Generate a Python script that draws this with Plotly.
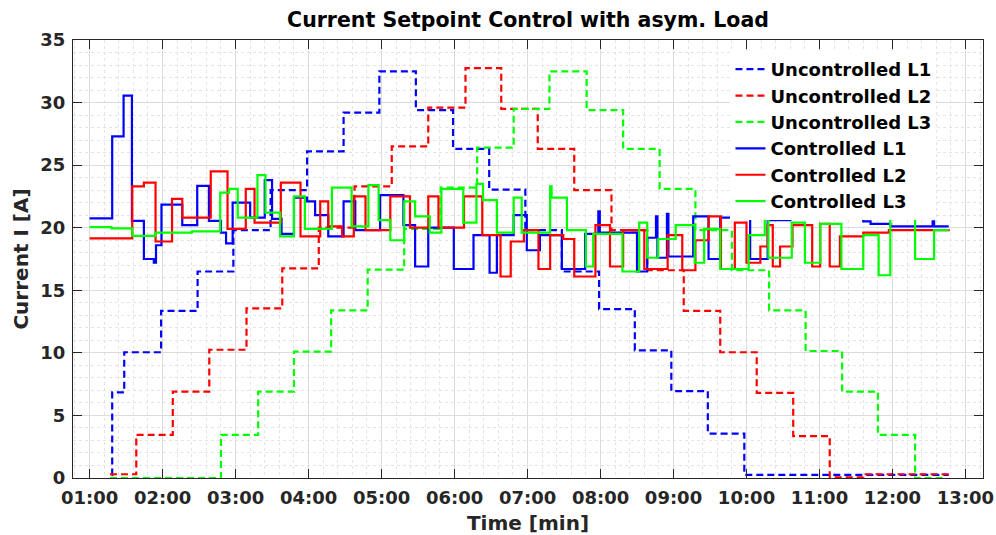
import plotly.graph_objects as go

# Time axis in minutes, currents in ampere (step profiles)
unc_l1_t = [1.30, 1.31, 1.475, 1.98, 2.48, 2.97, 3.48, 3.98, 4.48, 4.97, 5.47, 5.98,
            6.475, 6.97, 7.47, 7.98, 8.47, 8.97, 9.47, 9.97, 12.77]
unc_l1_i = [0.25, 6.85, 10.05, 13.35, 16.5, 19.8, 23.0, 26.1, 29.2, 32.5, 29.4, 26.3,
            23.05, 19.8, 16.5, 13.5, 10.2, 6.95, 3.55, 0.25, 0.25]

unc_l2_t = [1.28, 1.64, 2.14, 2.64, 3.15, 3.64, 4.14, 4.63, 5.14, 5.64, 6.15, 6.64,
            7.14, 7.64, 8.15, 8.64, 9.14, 9.64, 10.14, 10.64, 11.14, 11.6, 12.77]
unc_l2_i = [0.3, 3.45, 6.9, 10.25, 13.55, 16.75, 20.0, 23.3, 26.5, 29.6, 32.75, 29.5,
            26.3, 23.0, 19.8, 16.6, 13.35, 10.05, 6.8, 3.35, 0.05, 0.3, 0.3]

unc_l3_t = [1.28, 2.80, 3.31, 3.80, 4.31, 4.81, 5.31, 5.81, 6.31, 6.81, 7.30, 7.81,
            8.31, 8.81, 9.30, 9.80, 10.31, 10.81, 11.31, 11.80, 12.31, 12.69]
unc_l3_i = [0.0, 3.45, 6.9, 10.1, 13.4, 16.65, 19.9, 23.2, 26.4, 29.5, 32.5, 29.4,
            26.3, 23.1, 19.8, 16.6, 13.4, 10.15, 6.9, 3.45, 0.0, 0.0]

ctl_l1_t = [1.00, 1.31, 1.466, 1.58, 1.744, 1.88, 1.91, 1.985, 2.27, 2.475, 2.635, 2.80,
            2.87, 2.96, 3.20, 3.40, 3.50, 3.63, 3.80, 3.98, 4.09, 4.27, 4.48, 4.64,
            4.98, 5.30, 5.46, 5.64, 5.99, 6.26, 6.48, 6.58, 6.81, 6.99, 7.17, 7.47,
            7.79, 7.97, 7.99, 8.50, 8.64, 8.76, 8.78, 8.91, 8.93, 9.27, 9.48, 9.64,
            10.05, 10.29, 10.6, 11.6, 11.7, 11.97, 12.55, 12.57, 12.77]
ctl_l1_i = [20.75, 27.3, 30.55, 20.55, 17.5, 17.2, 18.6, 21.85, 20.2, 23.35, 20.55, 19.6,
            18.75, 22.0, 20.8, 23.8, 20.7, 19.5, 22.4, 22.1, 21.0, 19.3, 22.1, 19.8,
            22.6, 20.2, 16.9, 20.0, 16.7, 19.4, 16.4, 19.4, 21.0, 18.2, 19.4, 16.7,
            19.5, 21.3, 19.6, 16.5, 19.2, 20.9, 17.6, 21.1, 17.7, 20.9, 17.5, 20.8,
            17.5, 20.6, 20.7, 20.5, 20.3, 20.1, 20.5, 20.1, 20.1]

ctl_l2_t = [1.00, 1.585, 1.744, 1.904, 2.13, 2.27, 2.66, 2.89, 3.14, 3.26, 3.62, 3.89,
            4.16, 4.27, 4.46, 4.62, 4.78, 5.12, 5.39, 5.64, 5.78, 6.13, 6.38, 6.63,
            6.77, 6.95, 7.15, 7.31, 7.49, 7.64, 7.93, 8.13, 8.31, 8.60, 8.92, 9.12,
            9.30, 9.48, 9.65, 9.84, 10.0, 10.19, 10.29, 10.36, 10.46, 10.63, 10.90, 11.01,
            11.14, 11.28, 11.6, 11.95, 12.77]
ctl_l2_i = [19.15, 23.3, 23.6, 18.9, 22.3, 20.8, 24.5, 19.9, 23.1, 20.4, 23.6, 19.3,
            22.1, 20.1, 19.3, 22.5, 19.8, 22.5, 20.0, 22.5, 20.0, 22.5, 19.4, 16.1,
            18.9, 19.8, 16.7, 19.4, 19.1, 16.1, 20.2, 16.9, 19.8, 16.7, 19.4, 16.6,
            19.0, 20.9, 16.7, 20.4, 17.2, 18.5, 20.2, 16.9, 18.5, 20.2, 16.9, 20.3,
            16.9, 19.3, 19.6, 19.8, 19.9]

ctl_l3_t = [1.00, 1.30, 1.585, 1.90, 2.40, 2.79, 2.91, 3.03, 3.30, 3.41, 3.61, 3.80,
            3.95, 4.32, 4.59, 4.82, 4.96, 5.12, 5.31, 5.46, 5.66, 5.82, 6.12, 6.30,
            6.39, 6.58, 6.81, 6.92, 7.31, 7.33, 7.54, 7.80, 7.90, 8.30, 8.53, 8.64,
            8.79, 9.03, 9.29, 9.42, 9.64, 10.03, 10.25, 10.30, 10.62, 10.80, 11.01, 11.30,
            11.60, 11.81, 11.97, 12.31, 12.57, 12.77]
ctl_l3_i = [20.05, 19.95, 19.35, 19.6, 19.7, 22.8, 23.1, 20.8, 24.2, 21.2, 19.3, 22.5,
            19.9, 23.2, 20.1, 23.4, 20.6, 19.0, 22.1, 20.9, 19.6, 23.1, 20.4, 23.5,
            22.2, 19.6, 22.4, 19.6, 23.3, 22.4, 19.8, 16.9, 19.5, 16.5, 20.4, 17.6,
            19.1, 20.2, 17.2, 19.9, 16.7, 19.4, 21.1, 17.6, 20.4, 17.2, 20.3, 16.7,
            19.4, 16.2, 20.8, 17.5, 19.8, 19.8]

tick_minutes = list(range(1, 14))
tick_labels = [f"{m:02d}:00" for m in tick_minutes]

BLUE, RED, GREEN = "#0000ff", "#ff0000", "#00ff00"
FONT = "DejaVu Sans"
TXT = "#262626"
DASH = "7px,4px"

series = [
    ("Uncontrolled L1", unc_l1_t, unc_l1_i, BLUE, DASH),
    ("Uncontrolled L2", unc_l2_t, unc_l2_i, RED, DASH),
    ("Uncontrolled L3", unc_l3_t, unc_l3_i, GREEN, DASH),
    ("Controlled L1", ctl_l1_t, ctl_l1_i, BLUE, "solid"),
    ("Controlled L2", ctl_l2_t, ctl_l2_i, RED, "solid"),
    ("Controlled L3", ctl_l3_t, ctl_l3_i, GREEN, "solid"),
]

fig = go.Figure()
for name, t, i, color, dash in series:
    fig.add_trace(go.Scatter(
        x=t, y=i, name=name, mode="lines",
        line=dict(color=color, width=2.2, dash=dash, shape="hv"),
    ))

axis_common = dict(
    showline=True, linecolor=TXT, linewidth=1, mirror="ticks",
    ticks="inside", ticklen=9, tickwidth=1, tickcolor=TXT,
    showgrid=True, gridcolor="#dcdcdc", gridwidth=1, zeroline=False,
    automargin=False,
    tickfont=dict(family=FONT, size=18, color=TXT, weight="bold"),
)

fig.update_layout(
    width=996, height=535,
    margin=dict(l=73, r=13, t=40, b=57),
    plot_bgcolor="white", paper_bgcolor="white",
    title=dict(text="Current Setpoint Control with asym. Load",
               xref="paper", x=0.5, xanchor="center",
               yref="container", y=1 - 20 / 535, yanchor="middle",
               font=dict(family=FONT, size=20.5, color="black", weight="bold")),
    xaxis=dict(
        range=[0.773, 13.24], tickvals=tick_minutes, ticktext=tick_labels,
        ticklabelstandoff=3,
        minor=dict(dtick=0.2, tick0=1, showgrid=True, gridcolor="#e4e4e4",
                   griddash="dot", ticks=""),
        title=dict(text="Time [min]", standoff=10,
                   font=dict(family=FONT, size=20, color=TXT, weight="bold")),
        **axis_common,
    ),
    yaxis=dict(
        range=[0, 35], dtick=5, tick0=0,
        ticklabelstandoff=3,
        minor=dict(dtick=1, showgrid=True, gridcolor="#e4e4e4",
                   griddash="dot", ticks=""),
        title=dict(text="Current I [A]", standoff=6,
                   font=dict(family=FONT, size=20, color=TXT, weight="bold")),
        **axis_common,
    ),
    legend=dict(
        x=0.7225, y=0.975, xanchor="left", yanchor="top",
        bgcolor="white", borderwidth=0,
        font=dict(family=FONT, size=18, color="black", weight="bold"),
        tracegroupgap=0,
    ),
)

fig.write_html("out.html")
